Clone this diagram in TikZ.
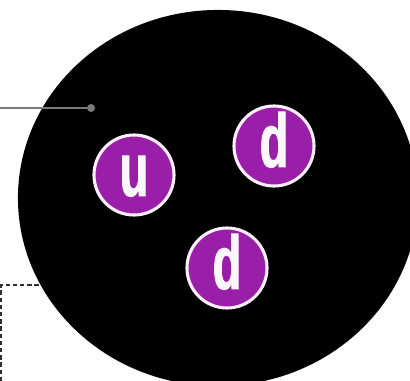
\documentclass[tikz,border=0pt]{standalone}
\usepackage{xcolor}
\usepackage{fontspec}
\usepackage{tikz}
\usetikzlibrary{positioning,shapes.geometric}
\newfontfamily\quarkfont[FakeStretch=0.62,FakeBold=1.2]{Liberation Sans}
\definecolor{QuarkPurple}{HTML}{9A1FA8}
\definecolor{QuarkRim}{HTML}{FCEEFC}
\definecolor{LeaderGray}{HTML}{7A7A7A}
\definecolor{DashGray}{HTML}{2E2E2E}
\tikzset{
  protonbody/.style={ellipse,fill=black,draw=none,inner sep=0pt,
    minimum width=10.0cm,minimum height=9.4cm},
  quark/.style={circle,fill=QuarkPurple,draw=QuarkRim,line width=2.2pt,
    minimum size=2.0cm,inner sep=0pt,
    font=\quarkfont\bfseries\fontsize{54}{54}\selectfont\color{white!96!QuarkPurple},
    text height=39.4pt,text depth=9.6pt},
  dotmark/.style={circle,fill=LeaderGray,draw=none,minimum size=0.2cm,inner sep=0pt},
  leader/.style={line width=0.9pt,draw=LeaderGray},
  boxedge/.style={line width=1.2pt,draw=DashGray,dash pattern=on 0.11cm off 0.07cm},
}

\begin{document}
\begin{tikzpicture}[x=0.025cm,y=-0.025cm]
  \useasboundingbox (0,0) rectangle (410,381);
  \coordinate (dashend) at (46,285);
  \coordinate (dashcorner) at (1,285);
  \coordinate (dashfoot) at (1,381);
  \draw[boxedge] (dashend) -- (dashcorner) -- (dashfoot);
  \node[protonbody] (proton) at (218,198) {};
  \coordinate (leadstart) at (0,108);
  \node[dotmark] (leaddot) at (91,108) {};
  \draw[leader] (leadstart) -- (leaddot);
  \node[quark] (qu) at (134,175) {u};
  \node[quark] (qd1) at (274,146) {d};
  \node[quark] (qd2) at (227,268) {d};
\end{tikzpicture}
\end{document}
